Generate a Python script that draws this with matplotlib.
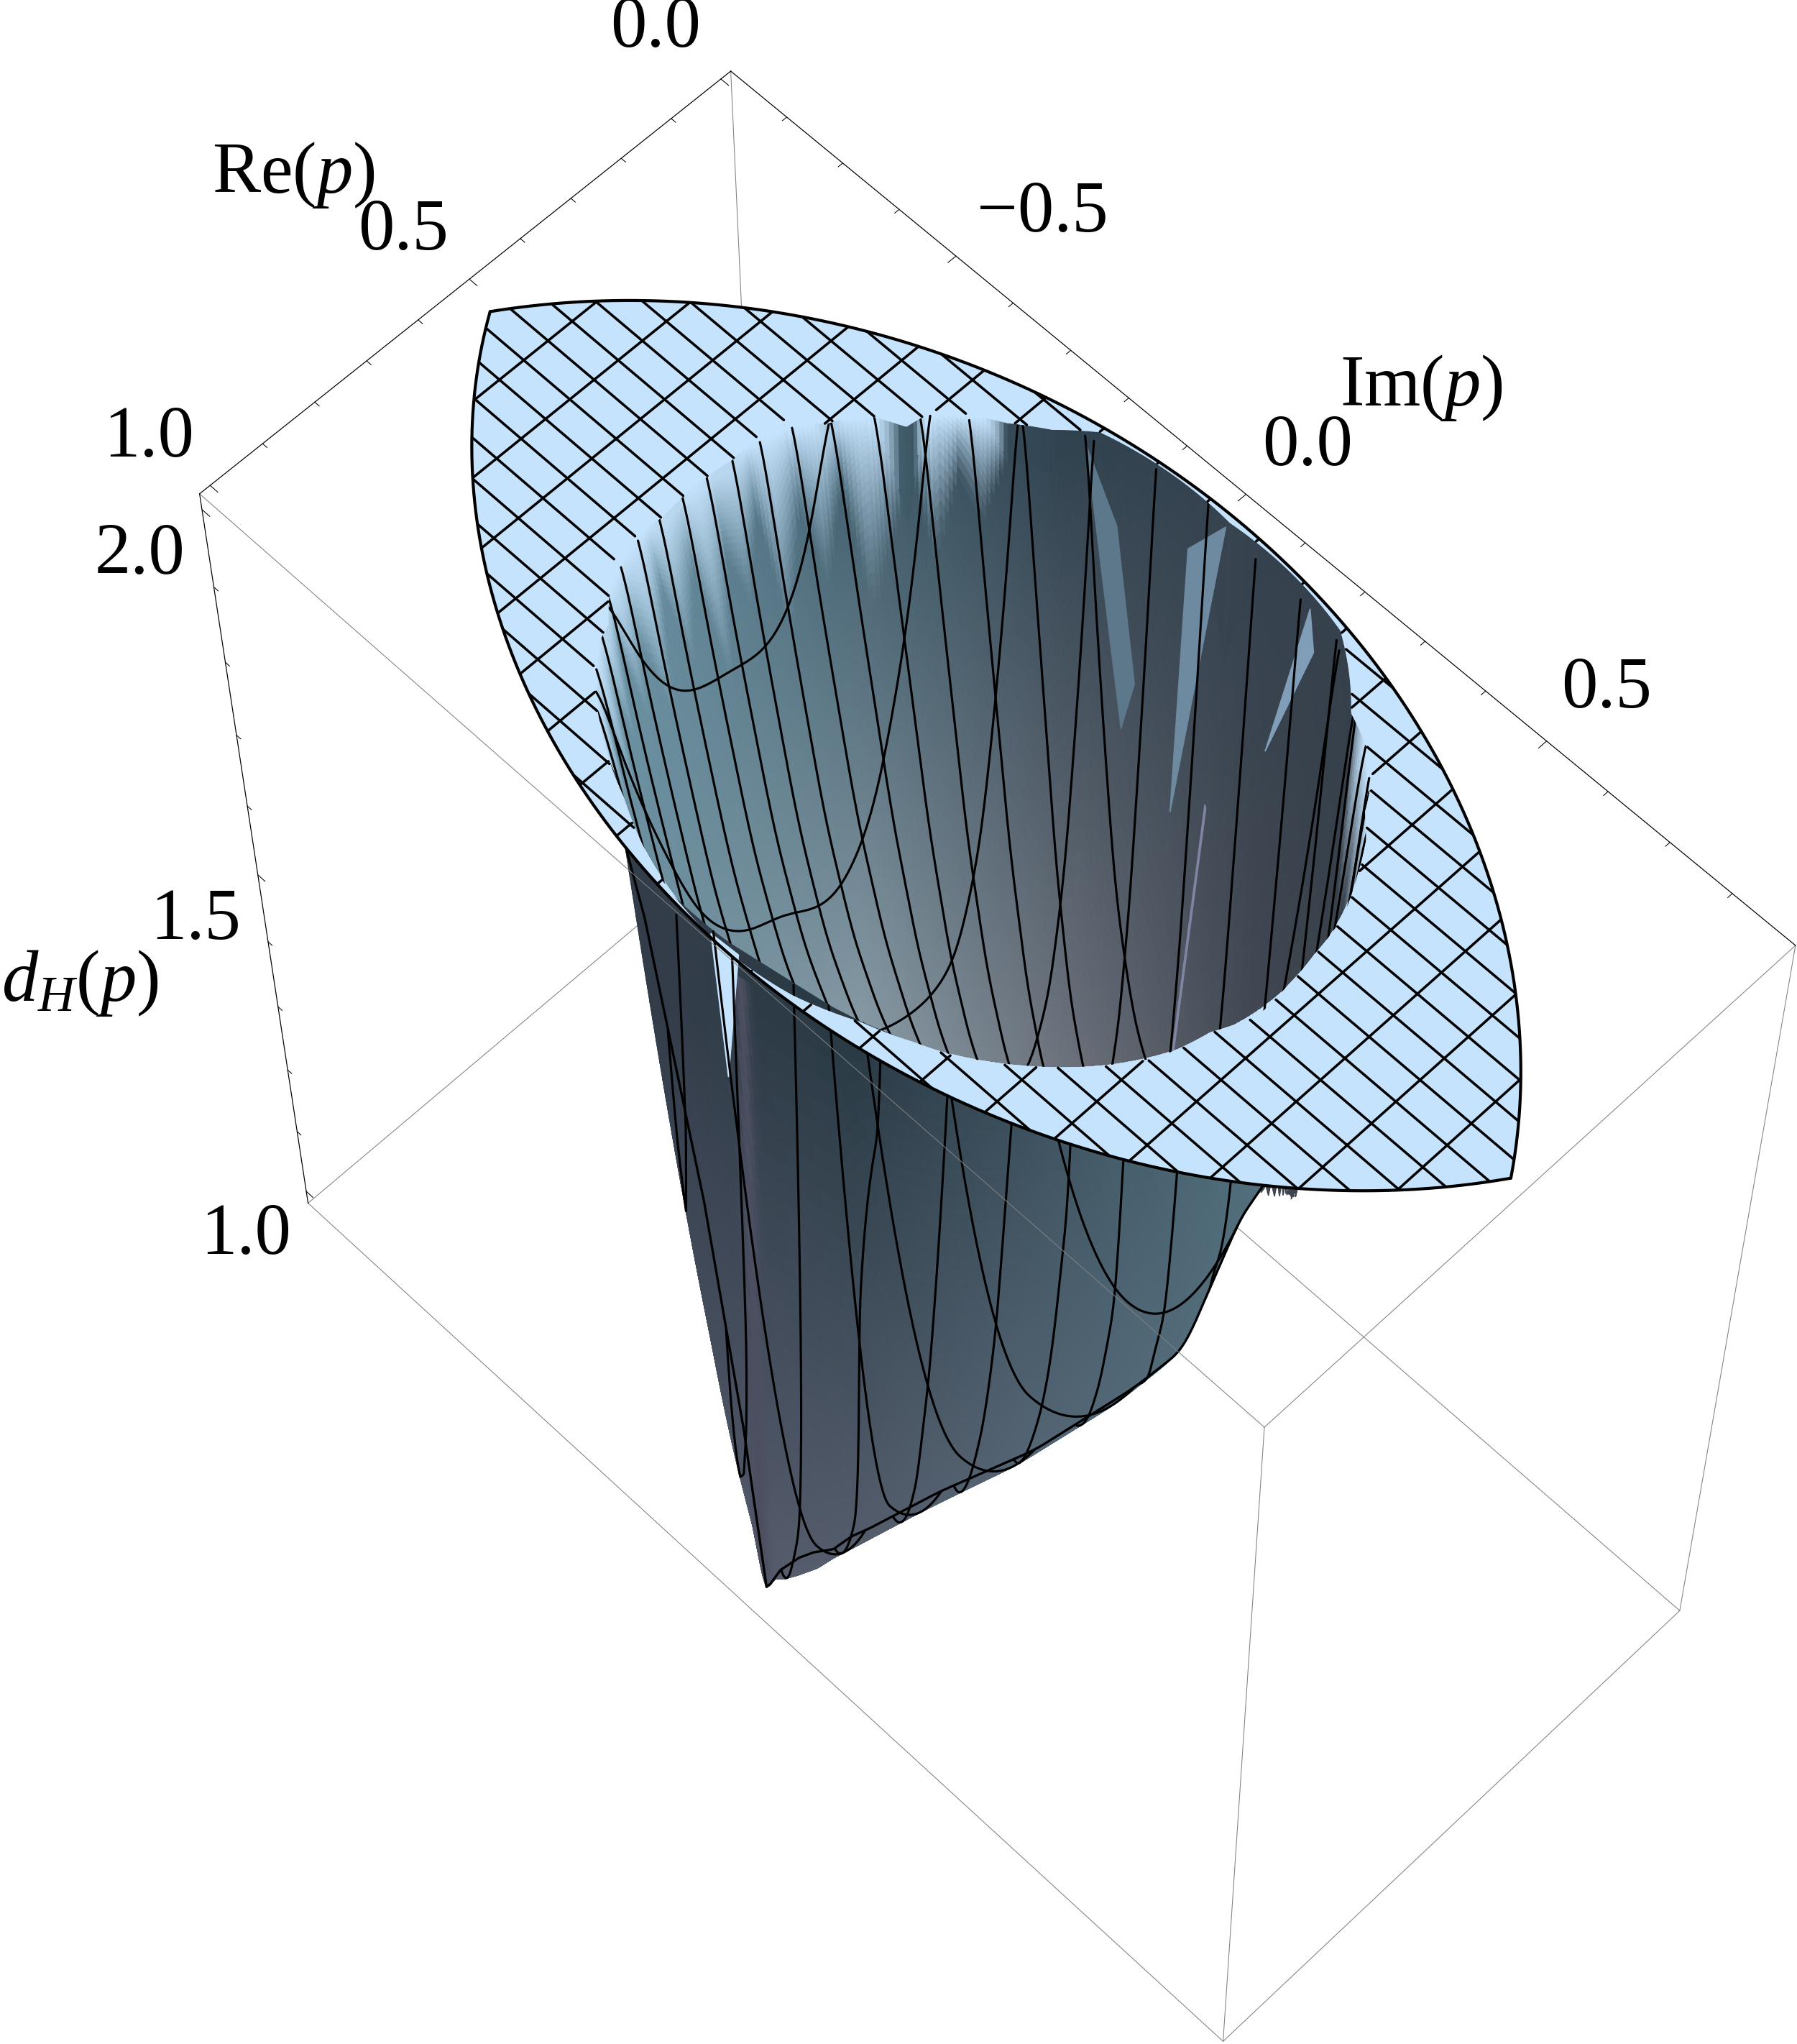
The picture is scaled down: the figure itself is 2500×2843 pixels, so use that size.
import numpy as np
import matplotlib
matplotlib.use('Agg')
import matplotlib.pyplot as plt
from mpl_toolkits.mplot3d import proj3d
from mpl_toolkits.mplot3d.art3d import Poly3DCollection

plt.rcParams['font.family'] = ['Liberation Serif', 'DejaVu Serif']
plt.rcParams['mathtext.fontset'] = 'custom'
plt.rcParams['mathtext.rm'] = 'Liberation Serif'
plt.rcParams['mathtext.it'] = 'Liberation Serif:italic'

W, H = 2500, 2843

# hole rim in the plane d_H = 2
rim_re = [0.03, 0.075, 0.112, 0.169, 0.218, 0.246, 0.296, 0.338, 0.432, 0.568, 0.659, 0.748, 0.791, 0.929, 0.985, 1.0,
          0.985, 0.949, 0.919, 0.898, 0.841, 0.773, 0.703, 0.624, 0.559, 0.494, 0.435, 0.364, 0.301, 0.254, 0.221,
          0.159, 0.118, 0.03, 0.01]
rim_im = [-0.206, -0.25, -0.296, -0.372, -0.380, -0.430, -0.453, -0.497, -0.496, -0.496, -0.497, -0.430, -0.414, -0.239, -0.12, 0.0,
          0.10, 0.182, 0.248, 0.289, 0.359, 0.419, 0.463, 0.483, 0.507, 0.503, 0.496, 0.484, 0.456, 0.431, 0.402,
          0.364, 0.294, 0.203, 0.0]

# inner bowl, by angle round the hole centre
psi_nodes = [-180, -150, -120, -90, -60, -30, 0, 30, 60, 90, 120, 150, 180]
floor_d = [1.0, 1.05, 1.2, 1.3, 1.32, 1.3, 1.25, 1.2, 1.15, 1.1, 1.05, 1.0, 1.0]
wall_k = [6, 2.2, 1.2, 1, 1, 1, 1, 1, 1, 1, 1.5, 3, 6]
wall_rho = [0, 0.4, 0.6, 0.7, 0.8, 0.9, 0.95, 1]
wall_h = [0, 0.03, 0.12, 0.22, 0.4, 0.68, 0.83, 1]

# outer sheet, row by row in Re: upper end, valley, lower end of each row
row_re = [0.743, 0.762, 0.786, 0.81, 0.857, 0.905, 0.952, 0.96, 0.97, 0.98, 0.9877, 0.9976, 0.99985, 1.0]
top_im = [0.55, 0.32, 0.26, 0.20, 0.10, 0.091, -0.059, -0.12, -0.17, -0.19, -0.156, -0.07, -0.017, 0.012]
top_d = [2.0, 1.88, 1.88, 1.88, 1.885, 1.93, 1.95, 1.96, 1.98, 2.0, 1.93, 1.59, 1.27, 1.018]
val_im = [0.6, 0.468, 0.405, 0.347, 0.265, 0.173, 0.071, 0.06, 0.05, 0.035, 0.025, 0.02, 0.012, 0.012]
val_d = [1.97, 1.68, 1.57, 1.48, 1.35, 1.225, 1.107, 1.09, 1.07, 1.05, 1.04, 1.04, 1.02, 1.018]
edge_im = [0.669, 0.65, 0.59, 0.53, 0.40, 0.27, 0.17, 0.15, 0.122, 0.092, 0.07, 0.04, 0.02, 0.012]
edge_d = [2.0, 1.95, 1.73, 1.64, 1.47, 1.33, 1.215, 1.195, 1.155, 1.132, 1.11, 1.07, 1.03, 1.018]

# where the white rim glare starts on the wall, psi -180 .. 0
fade_start = [1, 1, 1, 1, 1, 1, 1, 1, 1, 1, 0.95, 0.86, 0.92, 0.8, 0.94, 0.82, 0.72, 0.9, 0.76, 0.88, 0.68, 0.9, 0.76, 0.86, 0.66, 0.88, 0.74,
              0.9, 0.68, 0.86, 0.76, 0.92, 0.78, 0.88, 0.72, 0.92, 0.78, 0.94, 0.8, 0.9, 0.84, 0.95, 0.86, 0.94, 0.88, 0.96, 0.9, 0.96, 0.92]

# glints on the walls: Re, Im, d_H of each corner, colours
glint_re = [(0.04, 0.02, 0.05), (0.06, 0.06, 0.075, 0.07), (0.05, 0.054, 0.072, 0.068), (0.035, 0.06, 0.035)]
glint_im = [(-0.045, 0.0, -0.05), (-0.205, -0.15, -0.10, -0.125), (0.01, 0.015, -0.012, -0.017), (0.155, 0.115, 0.165)]
glint_d = [(1.955, 2.0, 1.6), (2.0, 1.93, 1.76, 1.68), (1.65, 1.65, 1.25, 1.25), (2.0, 1.8, 1.95)]
glint_col = [(0.43, 0.54, 0.63), (0.36, 0.47, 0.54), (0.50, 0.52, 0.64), (0.50, 0.62, 0.72)]
sliver_re = (0.995, 0.992, 0.992)
sliver_im = (-0.03, 0.014, -0.016)
sliver_d = (2.0, 2.0, 1.81)

re_ticks = np.arange(0, 1.01, 0.1)
im_ticks = np.arange(-0.8, 0.81, 0.1)
d_ticks = np.arange(1.0, 2.01, 0.1)
tick_labels = [('0.0', 912, 41), ('0.5', 561, 323), ('1.0', 207, 611),
               ('\u22120.5', 1450, 298), ('0.0', 1819, 623), ('0.5', 2235, 960),
               ('2.0', 195, 774), ('1.5', 272, 1282), ('1.0', 342, 1720)]
axis_labels = [(r'$\mathrm{Re}(p)$', 408, 244), (r'$\mathrm{Im}(p)$', 1977, 540), (r'$d_H(p)$', 111, 1367)]

FLAT = (0.773, 0.890, 0.988)
XMIN, XMAX = -0.02, 1.02
YMAX = 0.9007
ZMIN, ZMAX = 0.98, 2.02
ELEV, AZIM = 60.5082, 44.9858

fig = plt.figure(figsize=(10, 11.372), dpi=250)
S = 2060.36
ax = fig.add_axes([311.43 / W, 274.49 / H, S / W, S / H], projection='3d', computed_zorder=False)
ax.set_proj_type('persp', focal_length=1)
ax.set_autoscale_on(False)
ax.set_xlim(XMIN, XMAX); ax.set_ylim(-YMAX, YMAX); ax.set_zlim(ZMIN, ZMAX)
ax.view_init(ELEV, AZIM, -0.0183)
asp = np.array([0.8200, 1.6412, 1.6394])
ax.set_box_aspect(asp, zoom=np.linalg.norm(asp) / 1.8)
ax.set_axis_off()
ax.apply_aspect()
M = ax.get_proj()
el, az = np.radians(ELEV), np.radians(AZIM)
eye_w = asp / 2 + 10 * np.array([np.cos(el) * np.cos(az), np.cos(el) * np.sin(az), np.sin(el)])
EYE = (XMIN + eye_w[0] / asp[0] * (XMAX - XMIN), -YMAX + eye_w[1] / asp[1] * 2 * YMAX, ZMIN + eye_w[2] / asp[2] * (ZMAX - ZMIN))


def to_pixels(re, im, d):
    x, y, _ = proj3d.proj_transform(np.ravel(re), np.ravel(im), np.ravel(d), M)
    xy = ax.transData.transform(np.c_[x, y])
    return xy[:, 0], H - xy[:, 1]


def table_color(t, nodes, cols):
    cols = np.array(cols)
    return np.stack([np.interp(t, nodes, cols[:, i]) for i in range(3)], axis=-1)


def smooth(y, width):
    win = np.hanning(width)
    win = win / win.sum()
    pad = width // 2
    return np.convolve(np.r_[np.full(pad, y[0]), y, np.full(pad, y[-1])], win, mode='same')[pad:-pad]


def smooth_circ(y, width):
    win = np.hanning(width)
    win = win / win.sum()
    n = len(y)
    return np.convolve(np.r_[y, y, y], win, mode='same')[n:2 * n]


psi_r = np.degrees(np.arctan2(rim_im, np.array(rim_re) - 0.5))
rad_r = np.hypot(np.array(rim_re) - 0.5, rim_im)
psi_f = np.arange(-180, 180, 1.0)
rad_s = smooth_circ(np.interp(psi_f, psi_r, rad_r, period=360), 41)
floor_s = smooth_circ(np.interp(psi_f, psi_nodes, floor_d), 41)
k_s = smooth_circ(np.interp(psi_f, psi_nodes, wall_k), 31)
rho_f = np.linspace(0, 1, 501)
h_s = smooth(np.interp(rho_f, wall_rho, wall_h), 61)
h_s = h_s + (1 - h_s[-1]) * rho_f ** 8

# smoothed row tables for the outer sheet
RE_END = row_re[-1]
re_f = np.linspace(0.743, RE_END, 2571)
blend = np.clip((0.975 - re_f) / 0.025, 0, 1) * np.clip((re_f - 0.743) / 0.02, 0, 1)


def row_table(vals):
    y = np.interp(re_f, row_re, vals)
    return blend * smooth(y, 201) + (1 - blend) * y


top_im_s, top_d_s, val_im_s, val_d_s, edge_im_s, edge_d_s = [row_table(v) for v in (top_im, top_d, val_im, val_d, edge_im, edge_d)]


def lens_radius(psi):
    c = np.cos(np.radians(psi))
    return np.minimum((-c + np.sqrt(c * c + 3)) / 2, (c + np.sqrt(c * c + 3)) / 2)


def rim_radius(psi):
    return np.minimum(np.interp(psi, psi_r, rad_r, period=360), lens_radius(psi))


def inner(re, im):
    psi = np.degrees(np.arctan2(im, re - 0.5))
    r = np.minimum(np.interp(psi, psi_f, rad_s, period=360), lens_radius(psi))
    rho = np.hypot(re - 0.5, im) / r
    k = np.interp(psi, psi_f, k_s, period=360)
    f = np.interp(psi, psi_f, floor_s, period=360)
    h = np.interp(np.clip(rho, 0, 1) ** k, rho_f, h_s)
    return f + (2 - f) * h, rho, psi, h


def outer(re, im):
    re = np.clip(re, 0.743, RE_END)
    t_im = np.interp(re, re_f, top_im_s)
    t_d = np.interp(re, re_f, top_d_s)
    v_im = np.interp(re, re_f, val_im_s)
    v_d = np.interp(re, re_f, val_d_s)
    b = np.interp(re, re_f, edge_im_s)
    e_d = np.interp(re, re_f, edge_d_s)
    s_l = np.clip((v_im - im) / np.maximum(v_im - t_im, 1e-6), 0, 1)
    s_r = np.clip((im - v_im) / np.maximum(b - v_im, 1e-6), 0, 1)
    return np.where(im < v_im, v_d + (t_d - v_d) * s_l ** 2, v_d + (e_d - v_d) * s_r ** 2)


def facing(re, im):
    e = 1e-3
    x0, y0 = to_pixels(re, im, inner(re, im)[0])
    x1, y1 = to_pixels(re + e, im, inner(re + e, im)[0])
    x2, y2 = to_pixels(re, im + e, inner(re, im + e)[0])
    return ((x1 - x0) * (y2 - y0) - (x2 - x0) * (y1 - y0)) < 0


def under_lens(re, im, d):
    # does the view ray through this point cross d_H = 2 inside the lens
    f = (2 - d) / (EYE[2] - d)
    r2 = re + (EYE[0] - re) * f
    i2 = im + (EYE[1] - im) * f
    return (r2 ** 2 + i2 ** 2 < 1.003) & ((r2 - 1) ** 2 + i2 ** 2 < 1.003)


def add_polys(verts, colors, zorder):
    pc = Poly3DCollection(verts, facecolors=colors, edgecolors=colors, linewidths=0.5, zorder=zorder)
    pc.set_clip_on(False)
    ax.add_collection3d(pc)


def add_line(re, im, d, keep, lw, zorder):
    ax.plot(re, im, np.where(keep, d, np.nan), color='k', lw=lw, zorder=zorder, clip_on=False,
            solid_capstyle='round', solid_joinstyle='round')


def grid_quads(a, b, c):
    return np.stack([np.stack([a[:-1, :-1], b[:-1, :-1], c[:-1, :-1]], -1),
                     np.stack([a[1:, :-1], b[1:, :-1], c[1:, :-1]], -1),
                     np.stack([a[1:, 1:], b[1:, 1:], c[1:, 1:]], -1),
                     np.stack([a[:-1, 1:], b[:-1, 1:], c[:-1, 1:]], -1)], axis=2).reshape(-1, 4, 3)


def draw_box():
    edges_back = [((XMIN, -YMAX, ZMAX), (XMIN, -YMAX, ZMIN)), ((XMIN, -YMAX, ZMIN), (XMAX, -YMAX, ZMIN)),
                  ((XMIN, -YMAX, ZMIN), (XMIN, YMAX, ZMIN))]
    edges_black = [((XMIN, -YMAX, ZMAX), (XMAX, -YMAX, ZMAX)), ((XMIN, -YMAX, ZMAX), (XMIN, YMAX, ZMAX)),
                   ((XMAX, -YMAX, ZMAX), (XMAX, -YMAX, ZMIN))]
    edges_front = [((XMAX, -YMAX, ZMAX), (XMAX, YMAX, ZMAX)), ((XMIN, YMAX, ZMAX), (XMAX, YMAX, ZMAX)),
                   ((XMIN, YMAX, ZMAX), (XMIN, YMAX, ZMIN)), ((XMAX, YMAX, ZMAX), (XMAX, YMAX, ZMIN)),
                   ((XMAX, -YMAX, ZMIN), (XMAX, YMAX, ZMIN)), ((XMIN, YMAX, ZMIN), (XMAX, YMAX, ZMIN))]
    for a, b in edges_back:
        ax.plot(*zip(a, b), color='#808080', lw=0.3, zorder=1, clip_on=False)
    for a, b in edges_front:
        ax.plot(*zip(a, b), color='#808080', lw=0.3, zorder=20, clip_on=False)
    for a, b in edges_black:
        ax.plot(*zip(a, b), color='k', lw=0.35, zorder=20, clip_on=False)
    for i, r in enumerate(re_ticks):
        ln = 0.014 if i % 5 == 0 else 0.008
        ax.plot([r, r], [-YMAX, -YMAX + ln], [ZMAX, ZMAX], color='k', lw=0.3, zorder=20, clip_on=False)
    for v in im_ticks:
        ln = 0.016 if abs(round(v * 10)) % 5 == 0 else 0.009
        ax.plot([XMIN, XMIN + ln], [v, v], [ZMAX, ZMAX], color='k', lw=0.3, zorder=20, clip_on=False)
    for i, v in enumerate(d_ticks):
        ln = 0.014 if i % 5 == 0 else 0.008
        ax.plot([XMAX, XMAX], [-YMAX, -YMAX + ln], [v, v], color='k', lw=0.3, zorder=20, clip_on=False)


draw_box()

mesh_re = np.arange(1, 21) / 21
mesh_im = -0.866 + 1.732 * np.arange(1, 21) / 21

# inner bowl
psi_e = np.linspace(-180, 180, 541)
u = np.linspace(0, 1, 111)
rho_e = 1 - (1 - u) ** 2.0
pp, rr = np.meshgrid(psi_e, rho_e, indexing='ij')
rim_g = rim_radius(pp)
re_g = 0.5 + rr * rim_g * np.cos(np.radians(pp))
im_g = rr * rim_g * np.sin(np.radians(pp))
d_g = inner(re_g, im_g)[0]
d_g[:, -1] = 2.0
quad = grid_quads(re_g, im_g, d_g)
mid_re = quad[:, :, 0].mean(1)
mid_im = quad[:, :, 1].mean(1)
mid_d = quad[:, :, 2].mean(1)
keep = (facing(mid_re, mid_im) | (mid_d > 1.97)) & under_lens(mid_re, mid_im, mid_d)
quad = quad[keep]; mid_re = mid_re[keep]; mid_im = mid_im[keep]; mid_d = mid_d[keep]
px, py = to_pixels(mid_re, mid_im, mid_d)
t = (px - 850) / 1050
s = np.clip((py - 600) / 900, 0, 1)
c_top = table_color(t, [0, 0.3, 0.6, 1], [(0.42, 0.58, 0.65), (0.25, 0.37, 0.43), (0.19, 0.26, 0.31), (0.20, 0.25, 0.30)])
c_low = table_color(t, [0, 0.33, 0.62, 0.86, 1], [(0.42, 0.56, 0.62), (0.55, 0.62, 0.66), (0.42, 0.44, 0.48), (0.26, 0.28, 0.32), (0.22, 0.25, 0.28)])
col = c_top + (c_low - c_top) * s[:, None]
_, _, psi_m, h_m = inner(mid_re, mid_im)
h0 = np.interp(-np.abs(psi_m), np.linspace(-180, 0, len(fade_start)), fade_start)
h0 = h0 - 0.12 * ((psi_m > 0) & (h0 < 0.97))
fade = np.clip((h_m - h0) / np.maximum(1 - h0, 1e-3), 0, 1) ** 1.3
fade = np.where(h0 >= 0.995, 0, fade)
col = col + (np.array(FLAT) - col) * fade[:, None]
add_polys(quad, col, 2)
for a, b, c, g in zip(glint_re, glint_im, glint_d, glint_col):
    add_polys(np.array([list(zip(a, b, c))]), [g], 2.5)

for r in mesh_re:
    im = np.linspace(-0.9, 0.9, 1500)
    re = np.full_like(im, r)
    d, rho, _, _ = inner(re, im)
    add_line(re, im, d, (rho < 1) & facing(re, im) & under_lens(re, im, d), 0.9, 3)
for v in mesh_im:
    re = np.linspace(0, 1, 1000)
    im = np.full_like(re, v)
    d, rho, _, _ = inner(re, im)
    add_line(re, im, d, (rho < 1) & facing(re, im) & under_lens(re, im, d), 0.9, 3)

# outer sheet
re_rows = np.r_[np.linspace(0.743, 0.97, 130), np.linspace(0.97, 0.9976, 40)[1:], np.linspace(0.9976, RE_END, 10)[1:]]
u = np.linspace(0, 1, 81)
rg, ug = np.meshgrid(re_rows, u, indexing='ij')
t_g = np.interp(rg, re_f, top_im_s)
b_g = np.interp(rg, re_f, edge_im_s)
ig = t_g + (b_g - t_g) * ug
dg = outer(rg, ig)
quad = grid_quads(rg, ig, dg)
px, py = to_pixels(quad[:, :, 0].mean(1), quad[:, :, 1].mean(1), quad[:, :, 2].mean(1))
t = (px - 950) / 800
s = np.clip((py - 1400) / 800, 0, 1)
c_top = table_color(t, [0, 0.3, 0.6, 1], [(0.20, 0.24, 0.29), (0.15, 0.22, 0.26), (0.21, 0.29, 0.34), (0.30, 0.42, 0.47)])
c_low = table_color(t, [0, 0.3, 0.6, 1], [(0.33, 0.35, 0.42), (0.34, 0.37, 0.43), (0.36, 0.42, 0.48), (0.36, 0.46, 0.52)])
col = c_top + (c_low - c_top) * s[:, None]
streak = np.exp(-((px - (1036 + (py - 1500) * 0.035)) / 10) ** 2) * (py > 1350)
col = col + (np.array((0.30, 0.31, 0.38)) - col) * streak[:, None]
add_polys(quad, col, 4)
add_polys(np.array([list(zip(sliver_re, sliver_im, sliver_d))]), [FLAT], 4.5)

for r in mesh_re[mesh_re > 0.743]:
    top = np.interp(r, re_f, top_im_s)
    im = np.linspace(top, np.interp(r, re_f, edge_im_s), 300)
    re = np.full_like(im, r)
    add_line(re, im, outer(re, im), np.ones_like(im, bool), 0.9, 5)
for v in mesh_im:
    re = np.r_[np.linspace(0.743, 0.98, 500), np.linspace(0.98, RE_END, 100)[1:]]
    im = np.full_like(re, v)
    ok = (im >= np.interp(re, re_f, top_im_s)) & (im <= np.interp(re, re_f, edge_im_s))
    add_line(re, im, outer(re, im), ok, 0.9, 5)

# lower edge of the outer sheet
add_line(re_f, edge_im_s, edge_d_s, np.ones_like(re_f, bool), 0.95, 6)
add_line(np.array(row_re[9:]), np.array(top_im[9:]), np.array(top_d[9:]), np.ones(5, bool), 0.95, 6)

# flat sheet at d_H = 2
psi_e = np.linspace(-180, 180, 1081)
inner_r = rim_radius(psi_e)
outer_r = lens_radius(psi_e)
cp, sp = np.cos(np.radians(psi_e)), np.sin(np.radians(psi_e))
verts = []
for i in range(len(psi_e) - 1):
    if outer_r[i] - inner_r[i] < 1e-4 and outer_r[i + 1] - inner_r[i + 1] < 1e-4:
        continue
    verts.append([(0.5 + inner_r[i] * cp[i], inner_r[i] * sp[i], 2.0), (0.5 + outer_r[i] * cp[i], outer_r[i] * sp[i], 2.0),
                  (0.5 + outer_r[i + 1] * cp[i + 1], outer_r[i + 1] * sp[i + 1], 2.0),
                  (0.5 + inner_r[i + 1] * cp[i + 1], inner_r[i + 1] * sp[i + 1], 2.0)])
add_polys(np.array(verts), np.tile(FLAT, (len(verts), 1)), 6.5)


def strip_mask(re, im):
    in_lens = (re ** 2 + im ** 2 < 1) & ((re - 1) ** 2 + im ** 2 < 1)
    psi = np.degrees(np.arctan2(im, re - 0.5))
    return in_lens & (np.hypot(re - 0.5, im) >= rim_radius(psi))


for r in mesh_re:
    im = np.linspace(-0.9, 0.9, 1500)
    re = np.full_like(im, r)
    add_line(re, im, np.full_like(im, 2.0), strip_mask(re, im), 1.02, 7)
for v in mesh_im:
    re = np.linspace(0, 1, 1000)
    im = np.full_like(re, v)
    add_line(re, im, np.full_like(im, 2.0), strip_mask(re, im), 1.02, 7)

phi = np.radians(np.linspace(-60, 60, 300))
add_line(np.cos(phi), np.sin(phi), np.full_like(phi, 2.0), np.ones_like(phi, bool), 1.2, 8)
add_line(1 - np.cos(phi), np.sin(phi), np.full_like(phi, 2.0), np.ones_like(phi, bool), 1.2, 8)

for txt, x, y in tick_labels:
    fig.text(x / W, 1 - y / H, txt, fontsize=29, ha='center', va='center')
for txt, x, y in axis_labels:
    fig.text(x / W, 1 - y / H, txt, fontsize=29, ha='center', va='center')

ax.set_xlim(XMIN, XMAX); ax.set_ylim(-YMAX, YMAX); ax.set_zlim(ZMIN, ZMAX)
fig.savefig('out.png', dpi=250)
